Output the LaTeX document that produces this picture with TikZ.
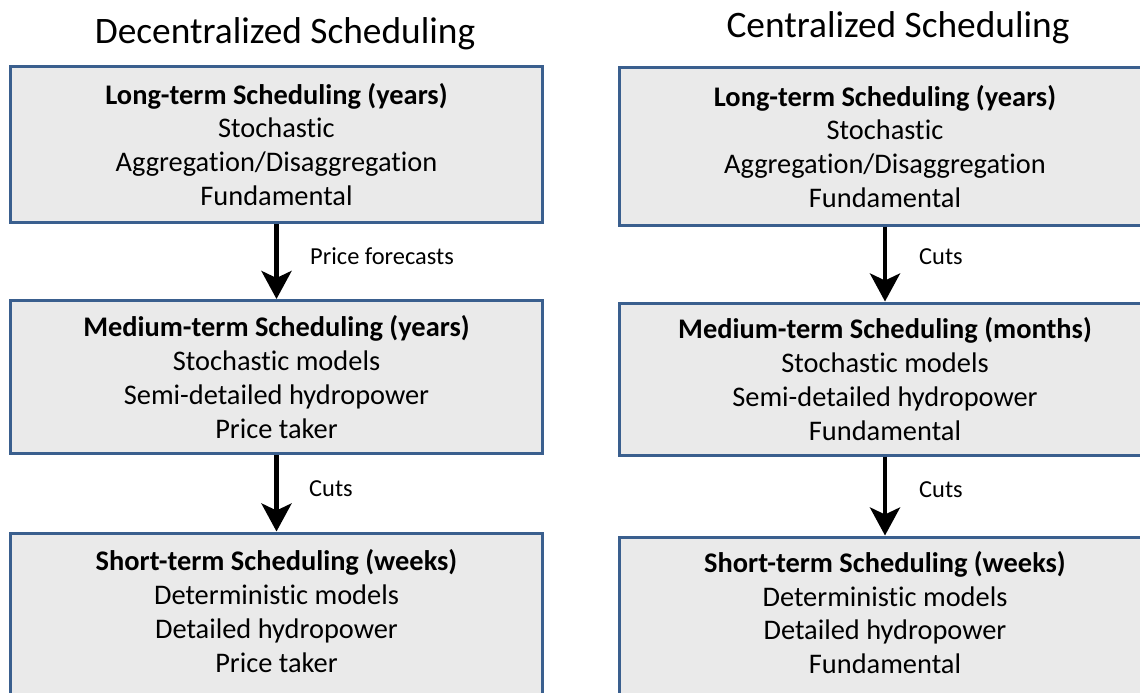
\documentclass[tikz,border=0pt]{standalone}
\usepackage{fontspec}
\setmainfont{Carlito}[RawFeature={-liga;-clig;-calt;-dlig}]
\usetikzlibrary{arrows.meta}
\definecolor{boxline}{HTML}{3A5F8E}
\definecolor{boxfill}{HTML}{EAEAEA}
\tikzset{
  stage/.style={draw=boxline, fill=boxfill, line width=3bp,
    minimum width=531bp, minimum height=156bp, align=center,
    inner sep=0pt, font=\fontsize{28.5}{34}\selectfont},
  flow/.style={line width=4.5bp, -{Stealth[length=28bp,width=30bp,inset=7bp]}},
  flowlabel/.style={anchor=west, inner sep=0pt, font=\fontsize{24.5}{29}\selectfont},
  coltitle/.style={anchor=base, inner sep=0pt, font=\fontsize{37.5}{44}\selectfont}
}
\begin{document}
\begin{tikzpicture}[x=1bp,y=-1bp]
\useasboundingbox (0,0) rectangle (1140,693);
\clip (0,0) rectangle (1140,693);

% column headings
\node[coltitle] (tdec) at (285,44) {Decentralized Scheduling};
\node[coltitle] (tcen) at (898,38) {Centralized Scheduling};

% decentralized chain
\node[stage] (dlong) at (276.5,144.5)
  {\textbf{Long-term Scheduling (years)}\\Stochastic\\Aggregation/Disaggregation\\Fundamental};
\node[stage, minimum height=153bp] (dmed) at (276.5,377)
  {\textbf{Medium-term Scheduling (years)}\\Stochastic models\\Semi-detailed hydropower\\Price taker};
\node[stage, minimum height=164bp, text depth=8bp] (dshort) at (276.5,615)
  {\textbf{Short-term Scheduling (weeks)}\\Deterministic models\\Detailed hydropower\\Price taker};

% centralized chain
\node[stage, minimum width=532bp, minimum height=157bp] (clong) at (885,146.5)
  {\textbf{Long-term Scheduling (years)}\\Stochastic\\Aggregation/Disaggregation\\Fundamental};
\node[stage, minimum width=532bp, minimum height=152bp] (cmed) at (885,379)
  {\textbf{Medium-term Scheduling (months)}\\Stochastic models\\Semi-detailed hydropower\\Fundamental};
\node[stage, minimum width=532bp, minimum height=164bp, text depth=13bp] (cshort) at (885,619)
  {\textbf{Short-term Scheduling (weeks)}\\Deterministic models\\Detailed hydropower\\Fundamental};

% information passed downwards
\draw[flow] (dlong.south) -- (dmed.north);
\draw[flow] (dmed.south) -- (dshort.north);
\draw[flow] (clong.south) -- (cmed.north);
\draw[flow] (cmed.south) -- (cshort.north);

\node[flowlabel] (ldec1) at (310,256) {Price forecasts};
\node[flowlabel] (ldec2) at (309,489) {Cuts};
\node[flowlabel] (lcen1) at (919,257) {Cuts};
\node[flowlabel] (lcen2) at (919,490) {Cuts};
\end{tikzpicture}
\end{document}
